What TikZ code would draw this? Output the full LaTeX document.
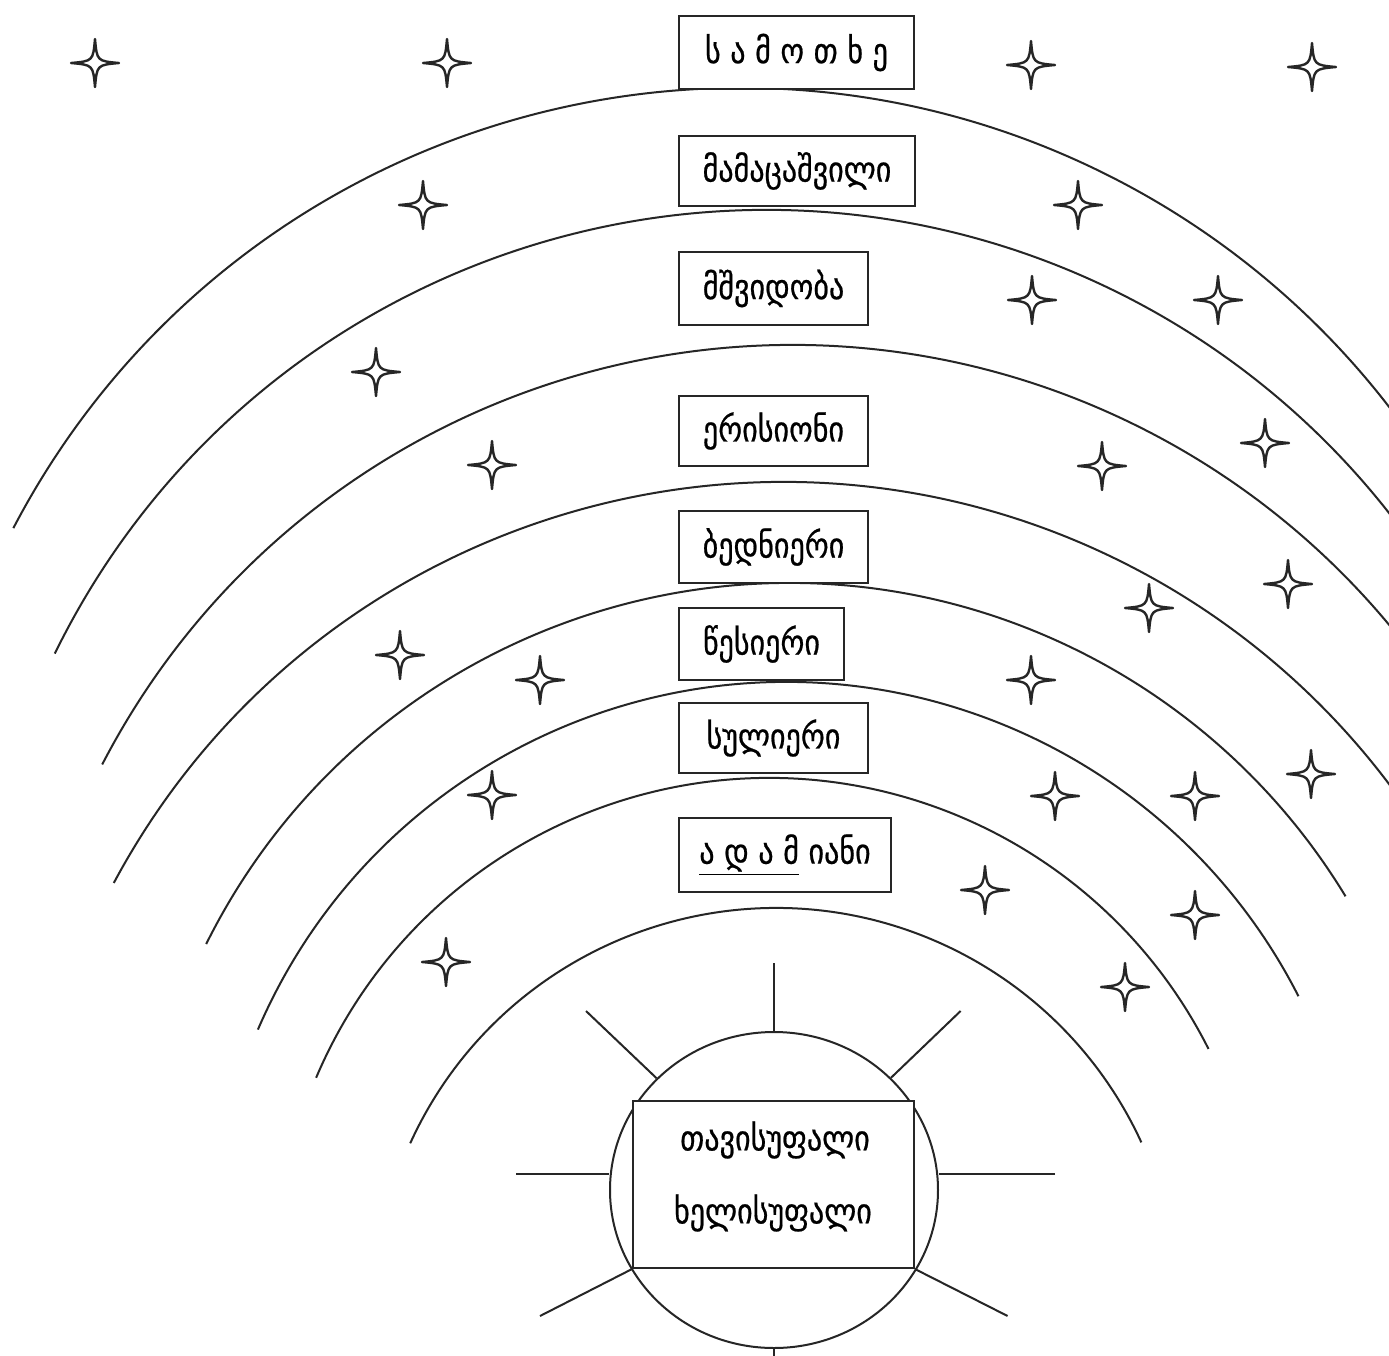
\documentclass[tikz,border=0pt]{standalone}
\usepackage{fontspec}
\setmainfont{DejaVu Sans}
\newfontfamily\geofont[FakeStretch=0.86,FakeBold=0.6]{DejaVu Sans}
\usetikzlibrary{shapes.geometric}
\begin{document}
\begin{tikzpicture}[x=0.5pt,y=-0.5pt,
  ring/.style={line width=1pt, draw=black!85},
  ray/.style={line width=1pt, draw=black!85},
  labelbox/.style={draw=black!85, line width=1.1pt, fill=white, inner sep=0pt, font=\geofont\fontsize{17.5}{20}\selectfont},
  word/.style={inner sep=0pt, font=\geofont\fontsize{17.5}{20}\selectfont},
  spark/.pic={\draw[line width=1.2pt, draw=black!85, line join=round] (0,-24) .. controls (2,-2) .. (24,0) .. controls (2,2) .. (0,24) .. controls (-2,2) .. (-24,0) .. controls (-2,-2) .. cycle;}]
\useasboundingbox (0,0) rectangle (1389,1356);
\clip (0,0) rectangle (1389,1356);
\fill[white] (0,0) rectangle (1389,1356);
% arcs
\draw[ring] ([shift={(-152.4:820)}]740,908) arc[start angle=-152.4, end angle=-30, radius=820];
\draw[ring] ([shift={(-153.9:792)}]766,1002) arc[start angle=-153.9, end angle=-30, radius=792];
\draw[ring] ([shift={(-152.6:777)}]792,1122) arc[start angle=-152.6, end angle=-30, radius=777];
\draw[ring] ([shift={(-151.85:759)}]783,1241) arc[start angle=-151.85, end angle=-30, radius=759];
\draw[ring] ([shift={(-153.55:651)}]789,1234) arc[start angle=-153.55, end angle=-31.25, radius=651];
\draw[ring] ([shift={(-156.7:575)}]786,1257) arc[start angle=-156.7, end angle=-26.97, radius=575];
\draw[ring] ([shift={(-157.0:492)}]769,1270) arc[start angle=-157.0, end angle=-26.7, radius=492];
\draw[ring] ([shift={(-155.5:402)}]776,1310) arc[start angle=-155.5, end angle=-24.65, radius=402];
% stars
\foreach \p in {(95,63),(447,63),(1031,65),(1312,67),(423,205),(1078,205),(1032,300),(1218,300),
  (376,372),(1265,443),(492,465),(1102,466),(1288,584),(1149,608),(400,655),(540,680),(1031,680),
  (1311,774),(492,795),(1055,796),(1195,796),(985,890),(1195,915),(446,962),(1125,987)}
  {\pic at \p {spark};}
% boxes
\node[labelbox, minimum width=117.5pt, minimum height=36.5pt] (b1) at (796.5,52.5) {ს ა მ ო თ ხ ე};
\node[labelbox, minimum width=118pt, minimum height=35pt] (b2) at (797,171) {მამაცაშვილი};
\node[labelbox, minimum width=94.5pt, minimum height=36.5pt] (b3) at (773.5,288.5) {მშვიდობა};
\node[labelbox, minimum width=94.5pt, minimum height=35pt] (b4) at (773.5,431) {ერისიონი};
\node[labelbox, minimum width=94.5pt, minimum height=36pt] (b5) at (773.5,547) {ბედნიერი};
\node[labelbox, minimum width=82.5pt, minimum height=36pt] (b6) at (761.5,644) {წესიერი};
\node[labelbox, minimum width=94.5pt, minimum height=35pt] (b7) at (773.5,738) {სულიერი};
\node[labelbox, minimum width=106pt, minimum height=37pt] (b8) at (785,855) {\underline{ა დ ა მ} იანი};
% sun
\node[ellipse, draw=black!85, line width=1pt, minimum width=164pt, minimum height=158pt, inner sep=0pt] (sun) at (774,1190) {};
\coordinate (rN) at (774,963);
\coordinate (rNW) at (586,1011);
\coordinate (rNE) at (960.6,1011);
\coordinate (rW) at (516,1174);
\coordinate (rE) at (1055,1174);
\coordinate (rSW) at (540,1316);
\coordinate (rSE) at (1007.6,1316);
\coordinate (rS) at (774,1370);
\draw[ray] (sun.north) -- (rN);
\draw[ray] (rNW) -- (sun);
\draw[ray] (rNE) -- (sun);
\draw[ray] (rW) -- (rW -| sun.west);
\draw[ray] (rE) -- (rE -| sun.east);
\draw[ray] (sun.south) -- (rS);
\node[labelbox, minimum width=140.5pt, minimum height=83.5pt] (rule) at (773.5,1184.5) {};
\draw[ray] (rule.south west) -- (rSW);
\draw[ray] (rule.south east) -- (rSE);
\node[word] (free) at (775,1140) {თავისუფალი};
\node[word] (power) at (773,1213) {ხელისუფალი};
\end{tikzpicture}
\end{document}
